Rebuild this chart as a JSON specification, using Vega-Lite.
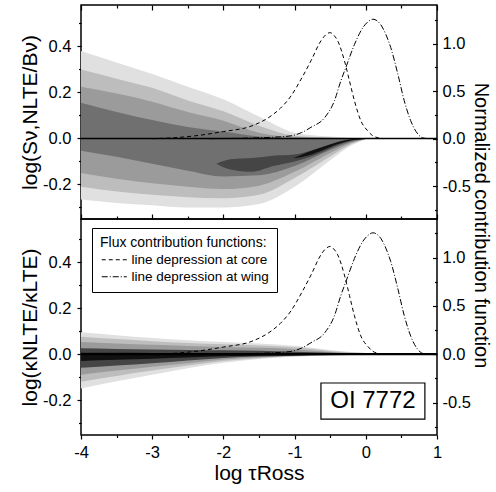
{
  "$schema": "https://vega.github.io/schema/vega-lite/v6.json",
  "padding": {"left": 18, "top": 3, "right": 0, "bottom": 0},
  "spacing": 0,
  "bounds": "flush",
  "config": {
    "font": "Liberation Sans",
    "view": {"stroke": "black", "strokeWidth": 1.5},
    "axis": {"domain": false, "grid": false, "labelFont": "Liberation Sans", "labelFontSize": 16.5, "labelColor": "black", "labelFlush": false, "labelOverlap": false, "titleFont": "Liberation Sans", "titleFontSize": 21, "titleFontWeight": "normal", "titleColor": "black", "tickColor": "black", "tickWidth": 1.2}
  },
  "resolve": {"scale": {"strokeDash": "independent"}, "legend": {"strokeDash": "independent"}},
  "datasets": {
    "bands": [
      {"panel":"S","band":"b1","x":-4,"lo":-0.265,"hi":0.38},
      {"panel":"S","band":"b1","x":-3.5,"lo":-0.28,"hi":0.33},
      {"panel":"S","band":"b1","x":-3,"lo":-0.29,"hi":0.28},
      {"panel":"S","band":"b1","x":-2.5,"lo":-0.3,"hi":0.225},
      {"panel":"S","band":"b1","x":-2,"lo":-0.3,"hi":0.17},
      {"panel":"S","band":"b1","x":-1.5,"lo":-0.285,"hi":0.095},
      {"panel":"S","band":"b1","x":-1,"lo":-0.21,"hi":0.025},
      {"panel":"S","band":"b1","x":-0.5,"lo":-0.095,"hi":0.008},
      {"panel":"S","band":"b1","x":-0.2,"lo":-0.03,"hi":0.002},
      {"panel":"S","band":"b1","x":0,"lo":-0.003,"hi":0},
      {"panel":"S","band":"b2","x":-4,"lo":-0.21,"hi":0.3},
      {"panel":"S","band":"b2","x":-3.5,"lo":-0.23,"hi":0.26},
      {"panel":"S","band":"b2","x":-3,"lo":-0.245,"hi":0.22},
      {"panel":"S","band":"b2","x":-2.5,"lo":-0.255,"hi":0.165},
      {"panel":"S","band":"b2","x":-2,"lo":-0.26,"hi":0.118},
      {"panel":"S","band":"b2","x":-1.5,"lo":-0.245,"hi":0.055},
      {"panel":"S","band":"b2","x":-1,"lo":-0.172,"hi":0.012},
      {"panel":"S","band":"b2","x":-0.5,"lo":-0.078,"hi":0.004},
      {"panel":"S","band":"b2","x":-0.2,"lo":-0.024,"hi":0.001},
      {"panel":"S","band":"b2","x":0,"lo":-0.002,"hi":0},
      {"panel":"S","band":"b3","x":-4,"lo":-0.15,"hi":0.225},
      {"panel":"S","band":"b3","x":-3.5,"lo":-0.175,"hi":0.195},
      {"panel":"S","band":"b3","x":-3,"lo":-0.195,"hi":0.16},
      {"panel":"S","band":"b3","x":-2.5,"lo":-0.21,"hi":0.115},
      {"panel":"S","band":"b3","x":-2,"lo":-0.22,"hi":0.077},
      {"panel":"S","band":"b3","x":-1.5,"lo":-0.205,"hi":0.025},
      {"panel":"S","band":"b3","x":-1,"lo":-0.145,"hi":0.006},
      {"panel":"S","band":"b3","x":-0.5,"lo":-0.063,"hi":0.002},
      {"panel":"S","band":"b3","x":-0.2,"lo":-0.019,"hi":0},
      {"panel":"S","band":"b3","x":0,"lo":-0.002,"hi":0},
      {"panel":"S","band":"b4","x":-4,"lo":-0.053,"hi":0.155},
      {"panel":"S","band":"b4","x":-3.5,"lo":-0.08,"hi":0.115},
      {"panel":"S","band":"b4","x":-3,"lo":-0.11,"hi":0.08},
      {"panel":"S","band":"b4","x":-2.5,"lo":-0.14,"hi":0.05},
      {"panel":"S","band":"b4","x":-2,"lo":-0.165,"hi":0.03},
      {"panel":"S","band":"b4","x":-1.5,"lo":-0.16,"hi":0.008},
      {"panel":"S","band":"b4","x":-1,"lo":-0.12,"hi":0.002},
      {"panel":"S","band":"b4","x":-0.5,"lo":-0.05,"hi":0.001},
      {"panel":"S","band":"b4","x":-0.2,"lo":-0.014,"hi":0},
      {"panel":"S","band":"b4","x":0,"lo":-0.001,"hi":0},
      {"panel":"S","band":"b5","x":-2.1,"lo":-0.11,"hi":-0.11},
      {"panel":"S","band":"b5","x":-1.9,"lo":-0.135,"hi":-0.09},
      {"panel":"S","band":"b5","x":-1.6,"lo":-0.145,"hi":-0.085},
      {"panel":"S","band":"b5","x":-1.3,"lo":-0.12,"hi":-0.075},
      {"panel":"S","band":"b5","x":-1,"lo":-0.1,"hi":-0.07},
      {"panel":"S","band":"b5","x":-0.8,"lo":-0.082,"hi":-0.056},
      {"panel":"S","band":"b5","x":-0.6,"lo":-0.058,"hi":-0.035},
      {"panel":"S","band":"b5","x":-0.4,"lo":-0.03,"hi":-0.015},
      {"panel":"S","band":"b5","x":-0.2,"lo":-0.01,"hi":-0.003},
      {"panel":"S","band":"b5","x":0,"lo":-0.001,"hi":0},
      {"panel":"S","band":"b6","x":-1,"lo":-0.086,"hi":-0.084},
      {"panel":"S","band":"b6","x":-0.8,"lo":-0.073,"hi":-0.058},
      {"panel":"S","band":"b6","x":-0.6,"lo":-0.05,"hi":-0.037},
      {"panel":"S","band":"b6","x":-0.4,"lo":-0.025,"hi":-0.016},
      {"panel":"S","band":"b6","x":-0.2,"lo":-0.008,"hi":-0.003},
      {"panel":"S","band":"b6","x":0,"lo":-0.002,"hi":0},
      {"panel":"K","band":"b1","x":-4,"lo":-0.15,"hi":0.095},
      {"panel":"K","band":"b1","x":-3.5,"lo":-0.118,"hi":0.082},
      {"panel":"K","band":"b1","x":-3,"lo":-0.09,"hi":0.07},
      {"panel":"K","band":"b1","x":-2.5,"lo":-0.062,"hi":0.06},
      {"panel":"K","band":"b1","x":-2,"lo":-0.038,"hi":0.052},
      {"panel":"K","band":"b1","x":-1.5,"lo":-0.022,"hi":0.046},
      {"panel":"K","band":"b1","x":-1,"lo":-0.012,"hi":0.036},
      {"panel":"K","band":"b1","x":-0.5,"lo":-0.006,"hi":0.018},
      {"panel":"K","band":"b1","x":0,"lo":-0.004,"hi":0.005},
      {"panel":"K","band":"b1","x":0.5,"lo":-0.003,"hi":0.002},
      {"panel":"K","band":"b1","x":1,"lo":-0.002,"hi":0.001},
      {"panel":"K","band":"b2","x":-4,"lo":-0.12,"hi":0.075},
      {"panel":"K","band":"b2","x":-3.5,"lo":-0.095,"hi":0.065},
      {"panel":"K","band":"b2","x":-3,"lo":-0.072,"hi":0.056},
      {"panel":"K","band":"b2","x":-2.5,"lo":-0.05,"hi":0.048},
      {"panel":"K","band":"b2","x":-2,"lo":-0.03,"hi":0.042},
      {"panel":"K","band":"b2","x":-1.5,"lo":-0.018,"hi":0.037},
      {"panel":"K","band":"b2","x":-1,"lo":-0.01,"hi":0.029},
      {"panel":"K","band":"b2","x":-0.5,"lo":-0.005,"hi":0.013},
      {"panel":"K","band":"b2","x":0,"lo":-0.004,"hi":0.004},
      {"panel":"K","band":"b2","x":0.5,"lo":-0.003,"hi":0.002},
      {"panel":"K","band":"b2","x":1,"lo":-0.002,"hi":0.001},
      {"panel":"K","band":"b3","x":-4,"lo":-0.09,"hi":0.052},
      {"panel":"K","band":"b3","x":-3.5,"lo":-0.072,"hi":0.046},
      {"panel":"K","band":"b3","x":-3,"lo":-0.055,"hi":0.04},
      {"panel":"K","band":"b3","x":-2.5,"lo":-0.04,"hi":0.035},
      {"panel":"K","band":"b3","x":-2,"lo":-0.024,"hi":0.031},
      {"panel":"K","band":"b3","x":-1.5,"lo":-0.014,"hi":0.027},
      {"panel":"K","band":"b3","x":-1,"lo":-0.008,"hi":0.021},
      {"panel":"K","band":"b3","x":-0.5,"lo":-0.005,"hi":0.009},
      {"panel":"K","band":"b3","x":0,"lo":-0.004,"hi":0.003},
      {"panel":"K","band":"b3","x":0.5,"lo":-0.003,"hi":0.002},
      {"panel":"K","band":"b3","x":1,"lo":-0.002,"hi":0.001},
      {"panel":"K","band":"b5","x":-4,"lo":-0.06,"hi":0.025},
      {"panel":"K","band":"b5","x":-3.5,"lo":-0.05,"hi":0.022},
      {"panel":"K","band":"b5","x":-3,"lo":-0.04,"hi":0.02},
      {"panel":"K","band":"b5","x":-2.5,"lo":-0.028,"hi":0.018},
      {"panel":"K","band":"b5","x":-2,"lo":-0.017,"hi":0.016},
      {"panel":"K","band":"b5","x":-1.5,"lo":-0.011,"hi":0.014},
      {"panel":"K","band":"b5","x":-1,"lo":-0.007,"hi":0.01},
      {"panel":"K","band":"b5","x":-0.5,"lo":-0.004,"hi":0.006},
      {"panel":"K","band":"b5","x":0,"lo":-0.003,"hi":0.002},
      {"panel":"K","band":"b5","x":0.5,"lo":-0.003,"hi":0.001},
      {"panel":"K","band":"b5","x":1,"lo":-0.002,"hi":0},
      {"panel":"K","band":"b6","x":-4,"lo":-0.03,"hi":0.006},
      {"panel":"K","band":"b6","x":-3.5,"lo":-0.025,"hi":0.006},
      {"panel":"K","band":"b6","x":-3,"lo":-0.02,"hi":0.005},
      {"panel":"K","band":"b6","x":-2.5,"lo":-0.015,"hi":0.005},
      {"panel":"K","band":"b6","x":-2,"lo":-0.01,"hi":0.004},
      {"panel":"K","band":"b6","x":-1.5,"lo":-0.007,"hi":0.004},
      {"panel":"K","band":"b6","x":-1,"lo":-0.005,"hi":0.003},
      {"panel":"K","band":"b6","x":-0.5,"lo":-0.004,"hi":0.002},
      {"panel":"K","band":"b6","x":0,"lo":-0.003,"hi":0.001},
      {"panel":"K","band":"b6","x":0.5,"lo":-0.003,"hi":0},
      {"panel":"K","band":"b6","x":1,"lo":-0.003,"hi":0}
    ],
    "curves": [
      {"s":"line depression at core","x":-3.0,"v":0.0},
      {"s":"line depression at core","x":-2.7,"v":0.01},
      {"s":"line depression at core","x":-2.4,"v":0.03},
      {"s":"line depression at core","x":-2.0,"v":0.075},
      {"s":"line depression at core","x":-1.6,"v":0.135},
      {"s":"line depression at core","x":-1.33,"v":0.24},
      {"s":"line depression at core","x":-1.2,"v":0.32},
      {"s":"line depression at core","x":-1.05,"v":0.45},
      {"s":"line depression at core","x":-0.91,"v":0.625},
      {"s":"line depression at core","x":-0.77,"v":0.82},
      {"s":"line depression at core","x":-0.63,"v":1.03},
      {"s":"line depression at core","x":-0.56,"v":1.095},
      {"s":"line depression at core","x":-0.5,"v":1.116},
      {"s":"line depression at core","x":-0.45,"v":1.09},
      {"s":"line depression at core","x":-0.395,"v":1.03},
      {"s":"line depression at core","x":-0.3,"v":0.82},
      {"s":"line depression at core","x":-0.23,"v":0.61},
      {"s":"line depression at core","x":-0.16,"v":0.4},
      {"s":"line depression at core","x":-0.07,"v":0.19},
      {"s":"line depression at core","x":0.03,"v":0.08},
      {"s":"line depression at core","x":0.1,"v":0.03},
      {"s":"line depression at core","x":0.17,"v":0.01},
      {"s":"line depression at core","x":0.24,"v":0.0},
      {"s":"line depression at wing","x":-2.2,"v":0.0},
      {"s":"line depression at wing","x":-1.8,"v":0.004},
      {"s":"line depression at wing","x":-1.5,"v":0.01},
      {"s":"line depression at wing","x":-1.2,"v":0.02},
      {"s":"line depression at wing","x":-1.05,"v":0.03},
      {"s":"line depression at wing","x":-0.9,"v":0.065},
      {"s":"line depression at wing","x":-0.77,"v":0.12},
      {"s":"line depression at wing","x":-0.58,"v":0.22},
      {"s":"line depression at wing","x":-0.44,"v":0.4},
      {"s":"line depression at wing","x":-0.35,"v":0.61},
      {"s":"line depression at wing","x":-0.28,"v":0.75},
      {"s":"line depression at wing","x":-0.16,"v":0.99},
      {"s":"line depression at wing","x":-0.04,"v":1.17},
      {"s":"line depression at wing","x":0.03,"v":1.23},
      {"s":"line depression at wing","x":0.1,"v":1.257},
      {"s":"line depression at wing","x":0.16,"v":1.24},
      {"s":"line depression at wing","x":0.21,"v":1.2},
      {"s":"line depression at wing","x":0.28,"v":1.1},
      {"s":"line depression at wing","x":0.35,"v":0.96},
      {"s":"line depression at wing","x":0.45,"v":0.68},
      {"s":"line depression at wing","x":0.54,"v":0.4},
      {"s":"line depression at wing","x":0.63,"v":0.19},
      {"s":"line depression at wing","x":0.73,"v":0.05},
      {"s":"line depression at wing","x":0.82,"v":0.005},
      {"s":"line depression at wing","x":0.9,"v":0.0}
    ]
  },
  "vconcat": [
    {
      "width": 356,
      "height": 214,
      "layer": [
        {
          "data": {"name": "bands"},
          "transform": [{"filter": "datum.panel == 'S'"}],
          "mark": {"type": "area", "interpolate": "monotone"},
          "encoding": {
            "x": {"field": "x", "type": "quantitative", "scale": {"domain": [-4, 1], "nice": false, "zero": false},
              "axis": {"orient": "bottom", "title": null, "values": [-4,-3.5,-3,-2.5,-2,-1.5,-1,-0.5,0,0.5,1], "labels": false,
                "tickSize": {"condition": {"test": "abs(datum.value - round(datum.value)) < 0.01", "value": -5}, "value": -3}}},
            "y": {"field": "lo", "type": "quantitative", "stack": null, "scale": {"domain": [-0.35, 0.58], "nice": false, "zero": false},
              "axis": {"orient": "left", "title": "log(Sν,NLTE/Bν)", "titlePadding": 2, "values": [-0.3,-0.2,-0.1,0,0.1,0.2,0.3,0.4,0.5],
                "labelPadding": 6,
                "labelExpr": "abs(datum.value*5 - round(datum.value*5)) < 0.01 ? replace(format(datum.value, '.1f'), '\u2212', '-') : ''",
                "tickSize": {"condition": {"test": "abs(datum.value*5 - round(datum.value*5)) < 0.01", "value": 4}, "value": 2.5}}},
            "y2": {"field": "hi"},
            "color": {"field": "band", "type": "nominal", "legend": null,
              "scale": {"domain": ["b1","b2","b3","b4","b5","b6"], "range": ["#e0e0e0","#bdbdbd","#9b9b9b","#707070","#454545","#111111"]}}
          }
        },
        {
          "data": {"values": [{}]},
          "mark": {"type": "rule", "color": "black", "strokeWidth": 1.5},
          "encoding": {"y": {"datum": 0, "type": "quantitative", "scale": {"domain": [-0.35, 0.58], "nice": false, "zero": false}, "axis": null}}
        },
        {
          "data": {"name": "curves"},
          "mark": {"type": "line", "color": "black", "strokeWidth": 1, "interpolate": "monotone"},
          "encoding": {
            "x": {"field": "x", "type": "quantitative", "scale": {"domain": [-4, 1], "nice": false, "zero": false},
              "axis": {"orient": "top", "title": null, "values": [-4,-3.5,-3,-2.5,-2,-1.5,-1,-0.5,0,0.5,1], "labels": false,
                "tickSize": {"condition": {"test": "abs(datum.value - round(datum.value)) < 0.01", "value": -5}, "value": -3}}},
            "y": {"field": "v", "type": "quantitative", "scale": {"domain": [-0.845, 1.407], "nice": false, "zero": false},
              "axis": {"orient": "right", "title": "Normalized contribution function", "titleFontSize": 20, "titleY": 220, "titlePadding": 0,
                "values": [-0.75,-0.5,-0.25,0,0.25,0.5,0.75,1,1.25], "labelPadding": 9.5,
                "labelExpr": "abs(datum.value*2 - round(datum.value*2)) < 0.01 ? replace(format(datum.value, '.1f'), '\u2212', '-') : ''",
                "tickSize": {"condition": {"test": "abs(datum.value*2 - round(datum.value*2)) < 0.01", "value": -4.5}, "value": -2.5}}},
            "strokeDash": {"field": "s", "type": "nominal", "legend": null,
              "scale": {"domain": ["line depression at core", "line depression at wing"], "range": [[4, 3], [6, 2, 1, 2]]}}
          }
        }
      ],
      "resolve": {"scale": {"y": "independent"}, "axis": {"x": "independent"}}
    },
    {
      "width": 356,
      "height": 216,
      "layer": [
        {
          "data": {"name": "bands"},
          "transform": [{"filter": "datum.panel == 'K'"}],
          "mark": {"type": "area", "interpolate": "monotone"},
          "encoding": {
            "x": {"field": "x", "type": "quantitative", "scale": {"domain": [-4, 1], "nice": false, "zero": false},
              "axis": {"orient": "bottom", "title": "log τRoss", "titlePadding": 2, "values": [-4,-3.5,-3,-2.5,-2,-1.5,-1,-0.5,0,0.5,1], "labelPadding": 5,
                "labelExpr": "abs(datum.value - round(datum.value)) < 0.01 ? replace(format(datum.value, 'd'), '\u2212', '-') : ''",
                "tickSize": {"condition": {"test": "abs(datum.value - round(datum.value)) < 0.01", "value": 4}, "value": 2.5}}},
            "y": {"field": "lo", "type": "quantitative", "stack": null, "scale": {"domain": [-0.352, 0.587], "nice": false, "zero": false},
              "axis": {"orient": "left", "title": "log(κNLTE/κLTE)", "titlePadding": 2, "values": [-0.3,-0.2,-0.1,0,0.1,0.2,0.3,0.4,0.5],
                "labelPadding": 6,
                "labelExpr": "abs(datum.value*5 - round(datum.value*5)) < 0.01 ? replace(format(datum.value, '.1f'), '\u2212', '-') : ''",
                "tickSize": {"condition": {"test": "abs(datum.value*5 - round(datum.value*5)) < 0.01", "value": 4}, "value": 2.5}}},
            "y2": {"field": "hi"},
            "color": {"field": "band", "type": "nominal", "legend": null,
              "scale": {"domain": ["b1","b2","b3","b4","b5","b6"], "range": ["#e0e0e0","#bdbdbd","#9b9b9b","#707070","#454545","#111111"]}}
          }
        },
        {
          "data": {"values": [{}]},
          "mark": {"type": "rule", "color": "black", "strokeWidth": 2.2},
          "encoding": {"y": {"datum": 0, "type": "quantitative", "scale": {"domain": [-0.352, 0.587], "nice": false, "zero": false}, "axis": null}}
        },
        {
          "data": {"values": [{}]},
          "mark": {"type": "rect", "fill": "white", "stroke": "black", "strokeWidth": 1.2},
          "encoding": {
            "x": {"datum": -0.63, "type": "quantitative", "axis": null},
            "x2": {"datum": 0.83},
            "y": {"datum": -0.283, "type": "quantitative", "scale": {"domain": [-0.352, 0.587], "nice": false, "zero": false}, "axis": null},
            "y2": {"datum": -0.126}
          }
        },
        {
          "data": {"values": [{}]},
          "mark": {"type": "text", "text": "OI 7772", "fontSize": 24, "font": "Liberation Sans", "color": "black", "align": "center", "baseline": "middle"},
          "encoding": {
            "x": {"datum": 0.1, "type": "quantitative", "axis": null},
            "y": {"datum": -0.204, "type": "quantitative", "scale": {"domain": [-0.352, 0.587], "nice": false, "zero": false}, "axis": null}
          }
        },
        {
          "data": {"name": "curves"},
          "mark": {"type": "line", "color": "black", "strokeWidth": 1, "interpolate": "monotone"},
          "encoding": {
            "x": {"field": "x", "type": "quantitative", "scale": {"domain": [-4, 1], "nice": false, "zero": false}, "axis": null},
            "y": {"field": "v", "type": "quantitative", "scale": {"domain": [-0.835, 1.40], "nice": false, "zero": false},
              "axis": {"orient": "right", "title": null,
                "values": [-0.75,-0.5,-0.25,0,0.25,0.5,0.75,1,1.25], "labelPadding": 9.5,
                "labelExpr": "abs(datum.value*2 - round(datum.value*2)) < 0.01 ? replace(format(datum.value, '.1f'), '\u2212', '-') : ''",
                "tickSize": {"condition": {"test": "abs(datum.value*2 - round(datum.value*2)) < 0.01", "value": -4.5}, "value": -2.5}}},
            "strokeDash": {"field": "s", "type": "nominal",
              "scale": {"domain": ["line depression at core", "line depression at wing"], "range": [[4, 3], [6, 2, 1, 2]]},
              "legend": {"title": "Flux contribution functions:", "orient": "none", "legendX": 11, "legendY": 9,
                "strokeColor": "black", "fillColor": "white", "padding": 8, "cornerRadius": 0,
                "titleFontSize": 14, "titleFontWeight": "normal", "titleFont": "Liberation Sans", "titleColor": "black", "titlePadding": 3,
                "labelFontSize": 13.5, "labelFont": "Liberation Sans", "labelColor": "black", "labelOffset": 18, "labelLimit": 300,
                "symbolType": "M-1,0L4,0", "symbolSize": 100, "symbolStrokeColor": "black", "symbolStrokeWidth": 1, "symbolFillColor": "transparent", "rowPadding": 2}}
          }
        }
      ],
      "resolve": {"scale": {"y": "independent"}, "axis": {"x": "independent"}}
    }
  ]
}
